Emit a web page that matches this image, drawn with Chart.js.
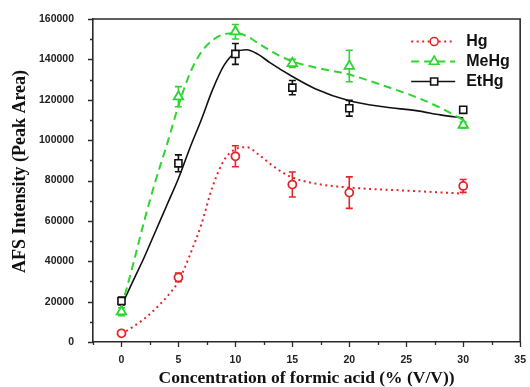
<!DOCTYPE html>
<html>
<head>
<meta charset="utf-8">
<script src="https://cdn.jsdelivr.net/npm/chart.js@4.4.0/dist/chart.umd.min.js"></script>
<style>
html, body { margin: 0; padding: 0; background: #fff; }
</style>
</head>
<body>
<canvas id="afsChart" width="530" height="387"></canvas>
<script>
const concentration = [0, 5, 10, 15, 20, 30];
const hgValues = [4300, 32000, 92000, 78000, 74000, 77300];
const hgErrors = [1000, 2100, 5200, 6200, 7800, 3200];
const meHgValues = [15000, 121500, 153700, 138000, 136700, 107500];
const meHgErrors = [2000, 5000, 3600, 2000, 7800, 1500];
const etHgValues = [20300, 88500, 142700, 126000, 115800, 115000];
const etHgErrors = [2000, 4200, 5200, 3500, 3900, 1000];

// fitted curves
const hgFitX = [0, 1, 2, 3, 4, 5, 6, 7, 8, 9, 10, 11, 12, 13, 14, 15, 17, 20, 25, 30];
const hgFitY = [4000, 7500, 11500, 16500, 22500, 30000, 43000, 58000, 77000, 90000, 95500, 96500, 93000, 88500, 84500, 81500, 78500, 76500, 75000, 73500];
const fitX = [0, 1, 2, 3, 4, 5, 6, 7, 8, 9, 10, 11, 12, 13, 15, 17, 20, 23, 26, 28, 30];
const meHgFitY = [17000, 38000, 60000, 80000, 98000, 117000, 133000, 143500, 149500, 152500, 153000, 151500, 148000, 144500, 139000, 136000, 132500, 127000, 121000, 116000, 110000];
const etHgFitY = [18000, 30000, 42000, 55000, 68000, 81000, 96000, 110000, 125000, 137000, 143500, 144800, 142500, 138500, 131500, 125500, 119500, 116500, 114500, 112500, 111000];

const red = '#e3262b';
const green = '#2fd52f';
const black = '#111111';
const axisColor = '#2a2a2a';
const yTitle = 'AFS Intensity (Peak Area)';

function toPoints(xs, ys) {
    return xs.map((x, i) => ({ x: x, y: ys[i] }));
}

const errorBars = {
    id: 'errorBars',
    beforeDatasetsDraw(chart) {
        const ctx = chart.ctx;
        const xs = chart.scales.x;
        const ys = chart.scales.y;
        const sets = [
            [hgValues, hgErrors, red],
            [meHgValues, meHgErrors, green],
            [etHgValues, etHgErrors, black]
        ];
        ctx.save();
        ctx.lineWidth = 1.6;
        for (const [vals, errs, color] of sets) {
            ctx.strokeStyle = color;
            vals.forEach((v, i) => {
                const px = xs.getPixelForValue(concentration[i]);
                const top = ys.getPixelForValue(v + errs[i]);
                const bot = ys.getPixelForValue(v - errs[i]);
                ctx.beginPath();
                ctx.moveTo(px, top); ctx.lineTo(px, bot);
                ctx.moveTo(px - 3.5, top); ctx.lineTo(px + 3.5, top);
                ctx.moveTo(px - 3.5, bot); ctx.lineTo(px + 3.5, bot);
                ctx.stroke();
            });
        }
        ctx.restore();
    }
};

// frame on top/right, outward major and minor ticks, y title
const frameTicks = {
    id: 'frameTicks',
    afterDraw(chart) {
        const ctx = chart.ctx;
        const a = chart.chartArea;
        const xs = chart.scales.x;
        const ys = chart.scales.y;
        ctx.save();
        ctx.strokeStyle = axisColor;
        ctx.lineWidth = 1.6;
        ctx.beginPath();
        ctx.moveTo(a.left, a.top); ctx.lineTo(a.right, a.top); ctx.lineTo(a.right, a.bottom);
        ctx.stroke();
        ctx.lineWidth = 1.3;
        ctx.beginPath();
        for (let v = 0; v <= 160000; v += 10000) {
            const py = Math.round(ys.getPixelForValue(v)) + 0.5;
            const len = v % 20000 === 0 ? 5 : 3;
            ctx.moveTo(a.left, py); ctx.lineTo(a.left - len, py);
        }
        for (let v = -2.5; v <= 35; v += 2.5) {
            const px = Math.round(xs.getPixelForValue(v)) + 0.5;
            const len = v % 5 === 0 ? 5 : 3;
            ctx.moveTo(px, a.bottom); ctx.lineTo(px, a.bottom + len);
        }
        ctx.stroke();

        ctx.translate(20, (a.top + a.bottom) / 2 - 9);
        ctx.rotate(-Math.PI / 2);
        ctx.fillStyle = '#111';
        ctx.font = 'bold 18px "Liberation Serif", "Times New Roman", serif';
        ctx.textAlign = 'center';
        ctx.textBaseline = 'middle';
        ctx.fillText(yTitle, 0, 0);
        ctx.restore();
    }
};

const sampleLegend = {
    id: 'sampleLegend',
    afterDraw(chart) {
        const ctx = chart.ctx;
        const a = chart.chartArea;
        const rows = [
            { label: 'Hg', color: red, dash: [2, 3.5], width: 2, pointStyle: 'circle', radius: 4 },
            { label: 'MeHg', color: green, dash: [8, 5], width: 2, pointStyle: 'triangle', radius: 5.5 },
            { label: 'EtHg', color: black, dash: [], width: 1.6, pointStyle: 'rect', radius: 5 }
        ];
        const x0 = a.right - 109;
        rows.forEach((r, i) => {
            const y = a.top + 22.5 + i * 20;
            ctx.save();
            ctx.strokeStyle = r.color;
            ctx.lineWidth = r.width;
            ctx.setLineDash(r.dash);
            ctx.beginPath();
            ctx.moveTo(x0, y); ctx.lineTo(x0 + 44, y);
            ctx.stroke();
            ctx.setLineDash([]);
            ctx.fillStyle = '#fff';
            ctx.lineWidth = 1.6;
            Chart.helpers.drawPoint(ctx, { pointStyle: r.pointStyle, radius: r.radius, borderWidth: 1.6, rotation: 0 }, x0 + 23, y);
            ctx.fillStyle = '#111';
            ctx.font = 'bold 16px "Liberation Sans", Arial, sans-serif';
            ctx.textBaseline = 'middle';
            ctx.fillText(r.label, x0 + 55, y);
            ctx.restore();
        });
    }
};

const tickFont = { family: '"Liberation Sans", Arial, sans-serif', size: 10.5, weight: 'bold' };
const titleFont = { family: '"Liberation Serif", "Times New Roman", serif', size: 17.5, weight: 'bold', lineHeight: 1 };

new Chart(document.getElementById('afsChart').getContext('2d'), {
    type: 'scatter',
    data: {
        datasets: [
            { label: 'Hg', data: toPoints(concentration, hgValues), pointStyle: 'circle', pointRadius: 4, borderColor: red, backgroundColor: '#fff', borderWidth: 1.8 },
            { label: 'MeHg', data: toPoints(concentration, meHgValues), pointStyle: 'triangle', pointRadius: 5.5, borderColor: green, backgroundColor: '#fff', borderWidth: 1.8 },
            { label: 'EtHg', data: toPoints(concentration, etHgValues), pointStyle: 'rect', pointRadius: 5, borderColor: black, backgroundColor: '#fff', borderWidth: 1.6 },
            { label: 'Hg fit', data: toPoints(hgFitX, hgFitY), showLine: true, pointRadius: 0, borderColor: red, borderWidth: 2, borderDash: [2, 3.5], cubicInterpolationMode: 'monotone' },
            { label: 'MeHg fit', data: toPoints(fitX, meHgFitY), showLine: true, pointRadius: 0, borderColor: green, borderWidth: 2, borderDash: [8, 5], cubicInterpolationMode: 'monotone' },
            { label: 'EtHg fit', data: toPoints(fitX, etHgFitY), showLine: true, pointRadius: 0, borderColor: black, borderWidth: 1.6, cubicInterpolationMode: 'monotone' }
        ]
    },
    options: {
        responsive: false,
        animation: false,
        layout: { padding: { top: 19, right: 8, left: 0, bottom: 0 } },
        plugins: { legend: { display: false }, tooltip: { enabled: false } },
        scales: {
            x: {
                type: 'linear',
                min: -2.5,
                max: 35,
                grid: { display: false },
                border: { display: true, color: axisColor, width: 1.6 },
                ticks: { stepSize: 5, includeBounds: false, font: tickFont, color: '#222', padding: 4, maxRotation: 0 },
                title: { display: true, text: 'Concentration of formic acid (% (V/V))', font: titleFont, color: '#111', padding: 0 },
                afterFit(scale) { scale.height = 45; }
            },
            y: {
                min: 0,
                max: 160000,
                grid: { display: false },
                border: { display: true, color: axisColor, width: 1.6 },
                ticks: { stepSize: 20000, font: tickFont, color: '#222', padding: 11, callback: (v) => String(v) },
                afterFit(scale) { scale.width = 93; }
            }
        }
    },
    plugins: [errorBars, frameTicks, sampleLegend]
});
</script>
</body>
</html>
